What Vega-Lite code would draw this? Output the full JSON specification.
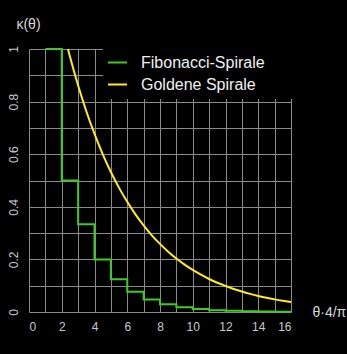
{
  "$schema": "https://vega.github.io/schema/vega-lite/v6.json",
  "autosize": "none",
  "width": 262,
  "height": 263,
  "padding": {"left": 29, "top": 49, "right": 56, "bottom": 42},
  "background": "#000000",
  "config": {
    "view": {"stroke": null},
    "font": "Liberation Sans",
    "axis": {
      "grid": true,
      "gridColor": "#8a8a8a",
      "gridWidth": 1,
      "gridOpacity": 1,
      "domain": false,
      "ticks": false,
      "labelOverlap": false,
      "labelColor": "#c8c8c8",
      "labelFontSize": 12,
      "labelFont": "Liberation Sans",
      "titleColor": "#d8d8d8",
      "titleFont": "Liberation Sans",
      "titleFontWeight": "normal",
      "titleFontSize": 14,
      "titleAngle": 0,
      "zindex": 0
    },
    "axisX": {
      "tickCount": 16,
      "labelExpr": "datum.value % 2 == 0 ? datum.label : ''",
      "labelPadding": 9,
      "titleAlign": "left",
      "titleBaseline": "middle",
      "titleX": 283,
      "titleY": 0
    },
    "axisY": {
      "tickCount": 10,
      "format": "~g",
      "labelExpr": "round(datum.value * 10) % 2 == 0 ? datum.label : ''",
      "labelAngle": 270,
      "labelAlign": "center",
      "labelBaseline": "middle",
      "labelPadding": 16,
      "titleAlign": "center",
      "titleBaseline": "middle",
      "titleX": -1,
      "titleY": -25
    }
  },
  "datasets": {
    "fib": [
      {"t": 1, "k": 1, "series": "Fibonacci-Spirale"},
      {"t": 2, "k": 0.5, "series": "Fibonacci-Spirale"},
      {"t": 3, "k": 0.3333, "series": "Fibonacci-Spirale"},
      {"t": 4, "k": 0.2, "series": "Fibonacci-Spirale"},
      {"t": 5, "k": 0.125, "series": "Fibonacci-Spirale"},
      {"t": 6, "k": 0.0769, "series": "Fibonacci-Spirale"},
      {"t": 7, "k": 0.0476, "series": "Fibonacci-Spirale"},
      {"t": 8, "k": 0.0294, "series": "Fibonacci-Spirale"},
      {"t": 9, "k": 0.0182, "series": "Fibonacci-Spirale"},
      {"t": 10, "k": 0.0112, "series": "Fibonacci-Spirale"},
      {"t": 11, "k": 0.0069, "series": "Fibonacci-Spirale"},
      {"t": 12, "k": 0.0043, "series": "Fibonacci-Spirale"},
      {"t": 13, "k": 0.0027, "series": "Fibonacci-Spirale"},
      {"t": 14, "k": 0.0016, "series": "Fibonacci-Spirale"},
      {"t": 15, "k": 0.001, "series": "Fibonacci-Spirale"},
      {"t": 16, "k": 0.0006, "series": "Fibonacci-Spirale"}
    ],
    "golden": [
      {"t": 2.38, "k": 1.0, "series": "Goldene Spirale"},
      {"t": 2.5, "k": 0.9715, "series": "Goldene Spirale"},
      {"t": 3, "k": 0.8614, "series": "Goldene Spirale"},
      {"t": 3.5, "k": 0.7635, "series": "Goldene Spirale"},
      {"t": 4, "k": 0.6769, "series": "Goldene Spirale"},
      {"t": 4.5, "k": 0.6004, "series": "Goldene Spirale"},
      {"t": 5, "k": 0.5321, "series": "Goldene Spirale"},
      {"t": 5.5, "k": 0.472, "series": "Goldene Spirale"},
      {"t": 6, "k": 0.419, "series": "Goldene Spirale"},
      {"t": 6.5, "k": 0.3711, "series": "Goldene Spirale"},
      {"t": 7, "k": 0.3293, "series": "Goldene Spirale"},
      {"t": 7.5, "k": 0.2915, "series": "Goldene Spirale"},
      {"t": 8, "k": 0.2589, "series": "Goldene Spirale"},
      {"t": 8.5, "k": 0.2294, "series": "Goldene Spirale"},
      {"t": 9, "k": 0.2034, "series": "Goldene Spirale"},
      {"t": 9.5, "k": 0.1804, "series": "Goldene Spirale"},
      {"t": 10, "k": 0.16, "series": "Goldene Spirale"},
      {"t": 10.5, "k": 0.1417, "series": "Goldene Spirale"},
      {"t": 11, "k": 0.1254, "series": "Goldene Spirale"},
      {"t": 11.5, "k": 0.1111, "series": "Goldene Spirale"},
      {"t": 12, "k": 0.0989, "series": "Goldene Spirale"},
      {"t": 12.5, "k": 0.0877, "series": "Goldene Spirale"},
      {"t": 13, "k": 0.0777, "series": "Goldene Spirale"},
      {"t": 13.5, "k": 0.0689, "series": "Goldene Spirale"},
      {"t": 14, "k": 0.0611, "series": "Goldene Spirale"},
      {"t": 14.5, "k": 0.0541, "series": "Goldene Spirale"},
      {"t": 15, "k": 0.048, "series": "Goldene Spirale"},
      {"t": 15.5, "k": 0.0426, "series": "Goldene Spirale"},
      {"t": 16, "k": 0.0377, "series": "Goldene Spirale"}
    ]
  },
  "layer": [
    {
      "data": {"values": [{}]},
      "mark": {"type": "rect", "fill": "#000000", "stroke": null, "opacity": 1},
      "encoding": {
        "x": {"datum": 4.65, "type": "quantitative"},
        "x2": {"datum": 17},
        "y": {"datum": 0.81, "type": "quantitative"},
        "y2": {"datum": 1.07}
      }
    },
    {
      "data": {"name": "fib"},
      "mark": {"type": "line", "interpolate": "step-after", "strokeWidth": 2},
      "encoding": {
        "x": {
          "field": "t", "type": "quantitative",
          "scale": {"domain": [0, 16], "nice": false},
          "axis": {"title": "θ·4/π"}
        },
        "y": {
          "field": "k", "type": "quantitative",
          "scale": {"domain": [0, 1], "nice": false},
          "axis": {"title": "κ(θ)"}
        },
        "color": {
          "field": "series", "type": "nominal",
          "scale": {"domain": ["Fibonacci-Spirale", "Goldene Spirale"], "range": ["#3fcc1e", "#ffee1a"]},
          "legend": {
            "title": null,
            "orient": "none",
            "legendX": 74,
            "legendY": -1,
            "padding": 4,
            "fillColor": "#000000",
            "symbolType": "stroke",
            "symbolSize": 361,
            "symbolStrokeWidth": 2,
            "labelFontSize": 16,
            "labelColor": "#f0f0f0",
            "labelFont": "Liberation Sans",
            "labelOffset": 13,
            "rowPadding": 3
          }
        }
      }
    },
    {
      "data": {"name": "golden"},
      "mark": {"type": "line", "interpolate": "monotone", "strokeWidth": 2},
      "encoding": {
        "x": {"field": "t", "type": "quantitative"},
        "y": {"field": "k", "type": "quantitative"},
        "color": {"field": "series", "type": "nominal"}
      }
    },
    {
      "mark": {"type": "rule", "color": "#d0d0d0", "strokeWidth": 2},
      "encoding": {
        "x": {"datum": -0.05},
        "x2": {"datum": 16.7},
        "y": {"datum": 0}
      }
    },
    {
      "mark": {"type": "rule", "color": "#d0d0d0", "strokeWidth": 2},
      "encoding": {
        "x": {"datum": 0},
        "y": {"datum": 0},
        "y2": {"datum": 1.04}
      }
    },
    {
      "mark": {"type": "point", "shape": "triangle-right", "filled": true, "color": "#d0d0d0", "size": 60, "opacity": 1},
      "encoding": {
        "x": {"datum": 16.9},
        "y": {"datum": 0}
      }
    },
    {
      "mark": {"type": "point", "shape": "triangle-up", "filled": true, "color": "#d0d0d0", "size": 60, "opacity": 1},
      "encoding": {
        "x": {"datum": 0},
        "y": {"datum": 1.055}
      }
    }
  ]
}
